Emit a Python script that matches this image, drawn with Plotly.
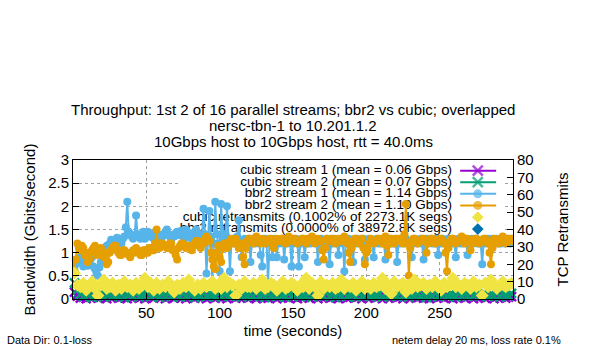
import plotly.graph_objects as go

# ---------------- data ----------------
# bbr2 streams: one sample per second (t = 1..300)
bbr2_1 = [
    0.62, 0.75, 0.80, 0.88, 0.90, 0.78, 0.70, 0.82, 0.85, 0.72, 0.75, 0.88, 0.90, 0.70, 0.65, 0.55, 0.50, 0.68, 0.80, 0.85,
    0.95, 1.05, 1.15, 1.10, 1.20, 1.28, 1.10, 1.22, 1.25, 1.32, 1.30, 1.22, 1.20, 1.30, 1.35, 1.55, 2.10, 1.45, 1.40, 1.35,
    1.30, 1.38, 1.80, 1.40, 1.35, 1.30, 1.40, 1.45, 1.30, 1.38, 1.45, 1.35, 1.40, 1.35, 1.30, 1.42, 1.40, 1.35, 1.30, 1.38,
    1.35, 1.40, 1.45, 1.50, 1.40, 1.35, 1.30, 1.38, 1.35, 1.42, 1.45, 1.38, 1.40, 1.48, 1.35, 1.30, 1.50, 1.45, 1.40, 1.35,
    1.30, 1.38, 1.45, 1.50, 1.35, 1.40, 1.30, 1.35, 1.95, 1.40, 0.55, 1.30, 1.90, 1.35, 0.35, 1.20, 2.10, 1.40, 1.20, 0.60,
    2.05, 1.35, 1.30, 1.40, 2.00, 1.30, 0.60, 1.25, 1.30, 1.20, 1.25, 1.35, 1.70, 1.25, 0.90, 1.20, 1.30, 1.25, 1.20, 1.30,
    0.80, 1.25, 1.30, 1.20, 1.25, 1.30, 1.20, 0.95, 0.70, 1.25, 1.30, 1.20, 0.30, 1.25, 1.25, 0.90, 1.30, 1.20, 0.90, 1.25,
    1.20, 1.25, 1.30, 0.85, 1.25, 1.20, 1.30, 1.25, 0.70, 1.20, 1.25, 1.30, 1.20, 0.70, 1.25, 1.20, 1.30, 0.90, 1.25, 1.20,
    1.30, 1.20, 1.25, 1.30, 1.25, 1.20, 0.80, 1.25, 1.30, 1.20, 1.25, 1.20, 1.30, 1.15, 0.75, 1.25, 1.20, 1.30, 1.25, 1.20,
    0.95, 1.25, 1.30, 1.20, 0.60, 1.25, 1.20, 1.30, 1.25, 1.20, 0.80, 1.25, 1.20, 1.30, 1.25, 1.20, 1.25, 1.30, 0.85, 1.20,
    1.25, 1.30, 1.20, 1.25, 0.90, 1.25, 1.30, 1.20, 1.25, 1.20, 1.30, 1.25, 0.85, 1.20, 1.25, 1.30, 1.20, 1.25, 1.20, 1.30,
    0.80, 1.25, 1.20, 1.30, 1.25, 1.20, 1.30, 1.25, 1.20, 1.25, 0.90, 1.20, 1.30, 1.25, 1.20, 1.25, 1.30, 1.20, 0.85, 1.25,
    1.30, 1.20, 1.25, 1.30, 1.20, 1.25, 1.20, 1.30, 0.95, 1.25, 1.20, 1.30, 1.25, 1.20, 1.25, 1.30, 1.20, 1.25, 1.30, 1.20,
    0.90, 1.25, 1.30, 1.20, 1.25, 1.20, 1.30, 1.25, 0.95, 1.20, 1.25, 1.30, 1.20, 1.25, 1.30, 1.20, 1.25, 1.20, 0.75, 1.25,
    1.20, 1.25, 1.30, 1.20, 1.25, 1.30, 1.20, 1.25, 1.30, 1.20, 1.25, 1.20, 1.30, 1.25, 1.20, 1.30, 1.25, 1.20, 1.30, 1.25,
]
bbr2_2 = [
    0.60, 0.85, 1.20, 1.10, 1.05, 1.15, 1.10, 0.95, 1.00, 0.80, 0.85, 1.00, 1.05, 1.10, 1.15, 0.95, 1.00, 1.05, 1.10, 1.00,
    0.90, 1.00, 0.75, 0.80, 1.00, 1.05, 1.10, 1.15, 1.15, 1.05, 1.00, 0.95, 0.95, 1.05, 1.05, 1.00, 1.00, 0.95, 0.90, 1.00,
    1.05, 1.00, 1.10, 1.05, 1.00, 0.95, 0.95, 1.05, 1.05, 1.00, 1.00, 1.10, 1.10, 1.05, 1.05, 1.20, 1.50, 1.15, 1.10, 1.20,
    1.20, 1.15, 1.15, 1.10, 1.10, 1.20, 1.20, 1.05, 1.05, 0.95, 0.85, 1.10, 1.15, 1.20, 1.20, 1.15, 1.10, 1.15, 1.15, 1.10,
    1.05, 1.15, 1.20, 1.25, 1.25, 1.15, 1.10, 1.20, 1.20, 1.30, 1.35, 1.30, 1.25, 1.00, 0.85, 0.70, 0.65, 1.00, 1.15, 0.90,
    0.80, 1.10, 1.20, 1.15, 1.10, 1.20, 1.25, 1.30, 1.20, 1.25, 1.30, 1.20, 1.10, 1.15, 1.20, 0.90, 0.75, 1.10, 1.25, 1.30,
    1.30, 1.25, 1.20, 1.30, 1.35, 1.30, 1.25, 1.20, 1.30, 1.25, 1.20, 1.25, 1.25, 1.30, 1.30, 1.20, 1.10, 1.25, 1.30, 1.25,
    1.25, 1.30, 1.30, 1.25, 1.20, 1.30, 1.35, 1.25, 1.25, 1.30, 1.30, 1.25, 1.20, 1.25, 1.25, 1.30, 1.30, 1.25, 1.20, 1.30,
    1.25, 1.30, 1.35, 1.25, 1.20, 1.25, 1.30, 1.25, 1.25, 1.05, 0.85, 1.10, 1.30, 1.25, 1.25, 1.30, 1.30, 1.25, 1.20, 1.25,
    1.30, 1.25, 1.25, 1.30, 1.35, 1.30, 1.20, 1.00, 0.80, 1.10, 1.25, 1.30, 1.30, 1.25, 1.20, 1.25, 1.30, 1.10, 0.75, 1.00,
    1.05, 1.20, 1.30, 1.25, 1.20, 1.25, 1.25, 1.30, 1.30, 1.25, 1.20, 1.30, 1.35, 1.15, 0.95, 1.20, 1.30, 1.25, 1.20, 1.30,
    1.25, 1.30, 1.30, 1.25, 1.20, 1.40, 2.05, 1.20, 0.50, 1.10, 1.25, 1.30, 1.30, 1.25, 1.20, 1.25, 1.25, 1.30, 1.30, 1.25,
    1.00, 1.20, 1.25, 1.30, 1.30, 1.25, 1.20, 1.25, 1.25, 1.30, 1.30, 1.25, 1.20, 1.00, 0.60, 1.10, 1.25, 1.30, 1.30, 1.25,
    1.20, 1.25, 1.25, 1.30, 1.35, 1.25, 1.20, 1.30, 1.30, 1.25, 1.05, 1.20, 1.25, 1.30, 1.30, 1.25, 1.20, 1.25, 1.25, 1.30,
    1.30, 1.25, 1.20, 1.00, 0.75, 1.10, 1.30, 1.25, 1.25, 1.20, 1.30, 1.30, 1.35, 1.25, 1.20, 1.25, 1.30, 1.30, 1.25, 1.30,
]
# cubic streams and retransmits: one sample every 2 s (t = 1, 3, ..., 299)
cubic1 = [
    0.15, 0.06, 0.02, 0.04, 0.01, 0.05, 0.03, 0.07, 0.02, 0.04,
    0.06, 0.01, 0.05, 0.03, 0.08, 0.02, 0.04, 0.06, 0.01, 0.05,
    0.03, 0.07, 0.02, 0.05, 0.01, 0.04, 0.06, 0.02, 0.08, 0.03,
    0.05, 0.01, 0.04, 0.07, 0.02, 0.06, 0.03, 0.05, 0.01, 0.04,
    0.07, 0.02, 0.05, 0.03, 0.06, 0.01, 0.04, 0.08, 0.02, 0.05,
    0.03, 0.06, 0.01, 0.04, 0.07, 0.02, 0.05, 0.03, 0.06, 0.02,
    0.04, 0.08, 0.01, 0.05, 0.03, 0.06, 0.02, 0.04, 0.07, 0.01,
    0.05, 0.03, 0.06, 0.02, 0.08, 0.04, 0.01, 0.05, 0.03, 0.07,
    0.02, 0.04, 0.06, 0.01, 0.05, 0.03, 0.07, 0.02, 0.04, 0.06,
    0.01, 0.05, 0.08, 0.02, 0.04, 0.06, 0.03, 0.05, 0.01, 0.07,
    0.02, 0.04, 0.06, 0.03, 0.05, 0.01, 0.08, 0.02, 0.04, 0.06,
    0.03, 0.05, 0.01, 0.07, 0.02, 0.04, 0.06, 0.03, 0.05, 0.02,
    0.08, 0.01, 0.04, 0.06, 0.03, 0.05, 0.02, 0.07, 0.04, 0.01,
    0.05, 0.03, 0.06, 0.02, 0.04, 0.08, 0.01, 0.05, 0.03, 0.06,
    0.02, 0.04, 0.07, 0.01, 0.05, 0.03, 0.06, 0.02, 0.04, 0.05,
]
cubic2 = [
    0.35, 0.20, 0.10, 0.05, 0.12, 0.08, 0.03, 0.11, 0.06, 0.13,
    0.04, 0.09, 0.12, 0.05, 0.10, 0.07, 0.14, 0.03, 0.09, 0.11,
    0.06, 0.12, 0.04, 0.10, 0.08, 0.13, 0.05, 0.09, 0.11, 0.03,
    0.12, 0.07, 0.10, 0.05, 0.13, 0.08, 0.04, 0.11, 0.06, 0.12,
    0.09, 0.03, 0.10, 0.07, 0.13, 0.05, 0.11, 0.08, 0.04, 0.12,
    0.06, 0.10, 0.13, 0.05, 0.09, 0.07, 0.12, 0.04, 0.10, 0.08,
    0.11, 0.05, 0.13, 0.06, 0.09, 0.03, 0.12, 0.07, 0.10, 0.05,
    0.11, 0.08, 0.04, 0.12, 0.06, 0.10, 0.13, 0.05, 0.09, 0.07,
    0.12, 0.04, 0.10, 0.08, 0.11, 0.06, 0.13, 0.05, 0.09, 0.03,
    0.11, 0.07, 0.12, 0.05, 0.10, 0.08, 0.04, 0.12, 0.06, 0.10,
    0.13, 0.05, 0.09, 0.07, 0.11, 0.04, 0.12, 0.08, 0.06, 0.10,
    0.05, 0.13, 0.07, 0.09, 0.04, 0.11, 0.08, 0.12, 0.06, 0.10,
    0.03, 0.11, 0.07, 0.13, 0.05, 0.09, 0.12, 0.06, 0.10, 0.08,
    0.04, 0.12, 0.07, 0.10, 0.05, 0.13, 0.08, 0.11, 0.06, 0.09,
    0.12, 0.05, 0.10, 0.07, 0.13, 0.04, 0.11, 0.08, 0.06, 0.12,
]
cubic_retrans = [
    15, 8, 7, 9, 5, 7, 10, 6, 2, 8,
    11, 6, 7, 9, 5, 8, 6, 10, 7, 8,
    5, 9, 6, 8, 12, 7, 9, 5, 9, 6,
    8, 7, 10, 7, 4, 8, 6, 9, 7, 11,
    7, 5, 8, 6, 9, 7, 8, 10, 6, 8,
    6, 12, 7, 9, 8, 2, 8, 6, 10, 7,
    7, 9, 6, 8, 11, 6, 7, 9, 8, 5,
    8, 10, 6, 7, 9, 8, 5, 8, 7, 12,
    6, 9, 7, 2, 10, 6, 8, 7, 9, 6,
    7, 11, 6, 8, 7, 9, 5, 8, 10, 6,
    8, 6, 9, 7, 8, 12, 6, 8, 3, 10,
    7, 8, 9, 4, 8, 6, 11, 7, 8, 9,
    6, 8, 7, 10, 7, 5, 9, 7, 8, 12,
    7, 8, 6, 9, 8, 6, 10, 7, 8, 2,
    9, 7, 11, 8, 6, 8, 10, 7, 8, 9,
]
bbr2_retrans = [
    0, 0, 0, 0, 0, 0, 0, 0, 0, 0,
    0, 0, 0, 0, 0, 0, 0, 0, 0, 0,
    0, 0, 0, 0, 0, 0, 0, 0, 0, 0,
    0, 0, 0, 0, 0, 0, 0, 0, 0, 0,
    0, 0, 0, 0, 0, 0, 0, 0, 0, 0,
    0, 0, 0, 0, 0, 0, 0, 0, 0, 0,
    0, 0, 0, 0, 0, 0, 0, 0, 0, 0,
    0, 0, 0, 0, 0, 0, 0, 0, 0, 0,
    0, 0, 0, 0, 0, 0, 0, 0, 0, 0,
    0, 0, 0, 0, 0, 0, 0, 0, 0, 0,
    0, 0, 0, 0, 0, 0, 0, 0, 0, 0,
    0, 0, 0, 0, 0, 0, 0, 0, 0, 0,
    0, 0, 0, 0, 0, 0, 0, 0, 0, 0,
    0, 0, 0, 0, 0, 0, 0, 0, 0, 0,
    0, 0, 0, 0, 0, 0, 0, 0, 0, 0,
]

series_names = [
    "cubic stream 1 (mean = 0.06 Gbps)",
    "cubic stream 2 (mean = 0.07 Gbps)",
    "bbr2 stream 1 (mean = 1.14 Gbps)",
    "bbr2 stream 2 (mean = 1.10 Gbps)",
    "cubic retransmits (0.1002% of 2273.1K segs)",
    "bbr2 retransmits (0.0000% of 38972.8K segs)",
]
x_ticks = [50, 100, 150, 200, 250]
y_ticks = [0, 0.5, 1, 1.5, 2, 2.5, 3]
y_tick_text = ["0", "0.5", "1", "1.5", "2", "2.5", "3"]
y2_ticks = [0, 10, 20, 30, 40, 50, 60, 70, 80]
Y_MAX, Y2_MAX = 3, 80
T_END = 300


def times(values):
    step = T_END // len(values)
    return list(range(1, step * len(values) + 1, step))


FONT = "Liberation Sans, Arial, sans-serif"
PURPLE, GREEN, BLUE, ORANGE, YELLOW, DBLUE = (
    "#9400D3", "#009E73", "#56B4E9", "#E69F00", "#F0E442", "#0072B2")
GRID = "#a0a0a0"

fig = go.Figure()

# ---------------- key (drawn first so that data lies on top, like gnuplot) ----------------
key_text_x = 258.5          # right end of key text, in data units
key_sample = [264, 276, 288.5]
key_rows = [2.77, 2.52, 2.27, 2.02, 1.765, 1.51]
styles = [
    dict(color=PURPLE, symbol="x-thin", size=9, lines=True),
    dict(color=GREEN, symbol="x-thin", size=9, lines=True),
    dict(color=BLUE, symbol="circle", size=8, lines=True),
    dict(color=ORANGE, symbol="circle", size=8, lines=True),
    dict(color=YELLOW, symbol="diamond", size=9, lines=False),
    dict(color=DBLUE, symbol="diamond", size=9, lines=False),
]

fig.add_shape(type="rect", xref="x", yref="y", x0=73, x1=294.5, y0=1.35, y1=2.995,
              fillcolor="white", line=dict(width=0), layer="between")

fig.add_trace(go.Scatter(
    x=[key_text_x] * len(series_names), y=key_rows, mode="text", text=series_names,
    textposition="middle left", textfont=dict(family=FONT, size=13.5, color="black"),
    hoverinfo="skip", showlegend=False, cliponaxis=False))

for name, st, ry in zip(series_names, styles, key_rows):
    mline = dict(color=st["color"], width=2.5) if st["symbol"] == "x-thin" else dict(width=0)
    if st["lines"]:
        fig.add_trace(go.Scatter(
            x=key_sample, y=[ry] * 3, mode="lines+markers",
            line=dict(color=st["color"], width=2),
            marker=dict(symbol=st["symbol"], size=[0, st["size"] + 1, 0], color=st["color"], line=mline),
            hoverinfo="skip", showlegend=False))
    else:
        fig.add_trace(go.Scatter(
            x=[key_sample[1]], y=[ry], mode="markers",
            marker=dict(symbol=st["symbol"], size=st["size"], color=st["color"], line=dict(width=0)),
            hoverinfo="skip", showlegend=False))

# ---------------- data ----------------
# bbr2 retransmits are all zero; zero is the same place on both axes, so they are
# drawn first on the bandwidth axis (scaled by the axis ratio) beneath the streams.
fig.add_trace(go.Scatter(
    x=times(bbr2_retrans), y=[v * Y_MAX / Y2_MAX for v in bbr2_retrans], name=series_names[5],
    mode="markers", marker=dict(symbol="diamond", size=6, color=DBLUE, line=dict(width=0)),
    showlegend=False))

for vals, name, st in zip([cubic1, cubic2, bbr2_1, bbr2_2], series_names[:4], styles[:4]):
    mline = dict(color=st["color"], width=2.5) if st["symbol"] == "x-thin" else dict(width=0)
    fig.add_trace(go.Scatter(
        x=times(vals), y=vals, name=name, mode="lines+markers",
        line=dict(color=st["color"], width=2),
        marker=dict(symbol=st["symbol"], size=st["size"], color=st["color"], line=mline),
        showlegend=False, cliponaxis=(st["symbol"] != "x-thin")))

fig.add_trace(go.Scatter(
    x=times(cubic_retrans), y=cubic_retrans, name=series_names[4], mode="markers", yaxis="y2",
    marker=dict(symbol="diamond", size=10, color=YELLOW, line=dict(width=0)),
    showlegend=False))

# ---------------- layout ----------------
axis_common = dict(showline=True, linecolor="black", linewidth=1, ticks="inside",
                   tickcolor="black", ticklen=6, zeroline=False,
                   tickfont=dict(family=FONT, size=15, color="black"))

fig.update_layout(
    width=600, height=350, margin=dict(l=73, r=87, t=160, b=51),
    paper_bgcolor="white", plot_bgcolor="white", showlegend=False,
    font=dict(family=FONT, color="black"),
    xaxis=dict(range=[0, 300], tickvals=x_ticks, mirror=True, showgrid=True,
               gridcolor=GRID, griddash="3px,3px", gridwidth=1,
               title=dict(text="time (seconds)", font=dict(family=FONT, size=15), standoff=5),
               **axis_common),
    yaxis=dict(range=[0, Y_MAX], tickvals=y_ticks, ticktext=y_tick_text, showgrid=True,
               gridcolor=GRID, griddash="3px,3px", gridwidth=1,
               title=dict(text="Bandwidth (Gbits/second)", font=dict(family=FONT, size=15), standoff=8),
               **axis_common),
    yaxis2=dict(range=[0, Y2_MAX], tickvals=y2_ticks, overlaying="y", side="right", showgrid=False,
                title=dict(text="TCP Retransmits", font=dict(family=FONT, size=15), standoff=24),
                **axis_common),
)

title_lines = [
    "Throughput: 1st 2 of 16 parallel streams; bbr2 vs cubic; overlapped",
    "nersc-tbn-1 to 10.201.1.2",
    "10Gbps host to 10Gbps host, rtt = 40.0ms",
]
for i, line in enumerate(title_lines):
    fig.add_annotation(text=line, xref="paper", yref="paper", x=0.5,
                       y=(299 - (109 + 16 * i)) / 139, xanchor="center", yanchor="middle",
                       showarrow=False, font=dict(family=FONT, size=15, color="black"))

fig.add_annotation(text="Data Dir: 0.1-loss", xref="paper", yref="paper",
                   x=(5 - 73) / 440, y=(299 - 340) / 139, xanchor="left", yanchor="middle",
                   showarrow=False, font=dict(family=FONT, size=11, color="black"))
fig.add_annotation(text="netem delay 20 ms, loss rate 0.1%", xref="paper", yref="paper",
                   x=(563 - 73) / 440, y=(299 - 340) / 139, xanchor="right", yanchor="middle",
                   showarrow=False, font=dict(family=FONT, size=11, color="black"))

fig.write_html("out.html")
